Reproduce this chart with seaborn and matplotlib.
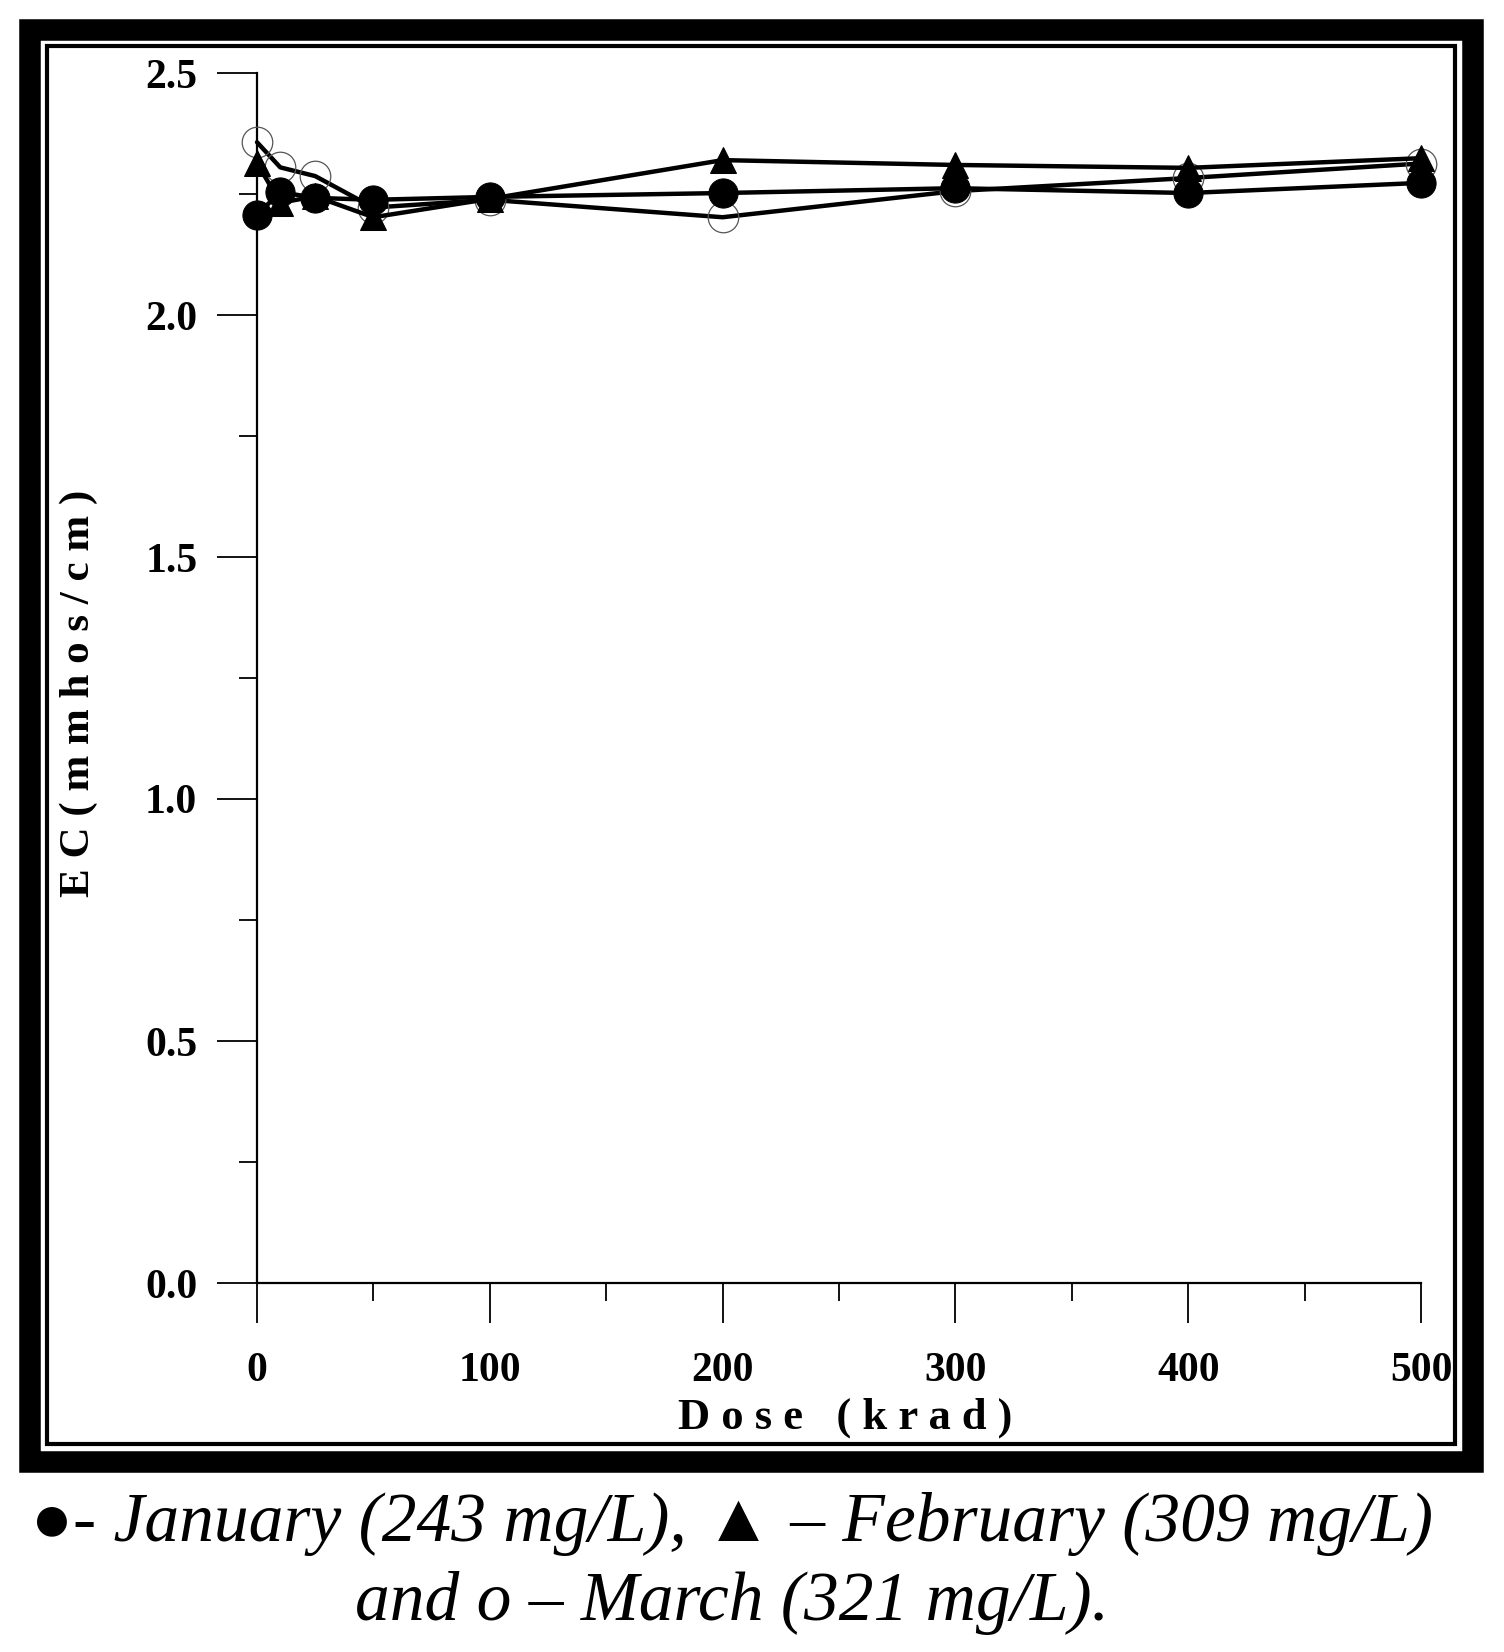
import matplotlib.pyplot as plt
import matplotlib.patches as mpatches
from matplotlib.ticker import MultipleLocator
import pandas as pd
import seaborn as sns


# Data
dose = [0, 10, 25, 50, 100, 200, 300, 400, 500]
january = [2.207, 2.254, 2.242, 2.238, 2.244, 2.252, 2.262, 2.252, 2.273]
february = [2.314, 2.232, 2.245, 2.202, 2.240, 2.320, 2.310, 2.304, 2.324]
march = [2.357, 2.305, 2.287, 2.222, 2.238, 2.202, 2.256, 2.283, 2.313]

df = pd.DataFrame({'Dose': dose, 'January': january,
                   'February': february, 'March': march})


sns.set_style('ticks')
plt.rcParams['font.family'] = ['Liberation Serif', 'DejaVu Sans']
plt.rcParams['text.color'] = 'black'
plt.rcParams['xtick.color'] = 'black'
plt.rcParams['ytick.color'] = 'black'
plt.rcParams['axes.labelcolor'] = 'black'

W, H = 1504, 1652
fig = plt.figure(figsize=(W / 100, H / 100), dpi=100)
ax = fig.add_axes([257 / W, 1 - 1283 / H, 1164 / W, 1210 / H])


# Lines
sns.lineplot(data=df, x='Dose', y='March', ax=ax, color='black', lw=3.2,
             marker='o', markersize=22, markerfacecolor='none',
             markeredgecolor='#555555', markeredgewidth=0.9, clip_on=False, zorder=3)
sns.lineplot(data=df, x='Dose', y='February', ax=ax, color='black', lw=3.2,
             marker='^', markersize=19, markerfacecolor='black',
             markeredgecolor='black', clip_on=False, zorder=4)
sns.lineplot(data=df, x='Dose', y='January', ax=ax, color='black', lw=3.2,
             marker='o', markersize=21, markerfacecolor='black',
             markeredgecolor='black', clip_on=False, zorder=5)


ax.set_xlim(0, 500)
ax.set_ylim(0, 2.5)
ax.xaxis.set_major_locator(MultipleLocator(100))
ax.xaxis.set_minor_locator(MultipleLocator(50))
ax.yaxis.set_major_locator(MultipleLocator(0.5))
ax.yaxis.set_minor_locator(MultipleLocator(0.25))
ax.set_yticks([0, 0.5, 1.0, 1.5, 2.0, 2.5])
ax.set_yticklabels(['0.0', '0.5', '1.0', '1.5', '2.0', '2.5'])

sns.despine(ax=ax)
for s in ['left', 'bottom']:
    ax.spines[s].set_linewidth(1.6)
    ax.spines[s].set_color('black')

ax.tick_params(axis='both', which='major', length=29, width=1.3, color='black',
               labelsize=30, labelcolor='black', direction='out')
ax.tick_params(axis='both', which='minor', length=13, width=1.3, color='black',
               direction='out')
ax.tick_params(axis='y', which='major', pad=14)
ax.tick_params(axis='x', which='major', pad=21)
for lbl in ax.get_xticklabels() + ax.get_yticklabels():
    lbl.set_fontweight('bold')

ax.set_xlabel('D o s e   ( k r a d )', fontsize=32, fontweight='bold',
              va='center', color='black')
ax.xaxis.set_label_coords(0.505, -0.1116)
ax.set_ylabel('E C ( m m h o s / c m )', fontsize=31, fontweight='bold',
              va='center', color='black')
ax.yaxis.set_label_coords(-0.153, 0.4876)


# Frame around chart
def px_rect(x0, y0, x1, y1, lw):
    return mpatches.Rectangle((x0 / W, 1 - y1 / H), (x1 - x0) / W, (y1 - y0) / H,
                              transform=fig.transFigure, fill=False,
                              edgecolor='black', linewidth=lw)

fig.patches.append(px_rect(29.5, 29.5, 1472.5, 1461.5, 15.5))
fig.patches.append(px_rect(47, 46, 1455, 1444, 3))


# Caption
fig.text(732 / W, 1 - 1524 / H, '●- January (243 mg/L), ▲ – February (309 mg/L)',
         ha='center', va='center', fontsize=50, style='italic', color='black')
fig.text(732 / W, 1 - 1603 / H, 'and o – March (321 mg/L).',
         ha='center', va='center', fontsize=50, style='italic', color='black')

fig.savefig('out.png', dpi=100)
